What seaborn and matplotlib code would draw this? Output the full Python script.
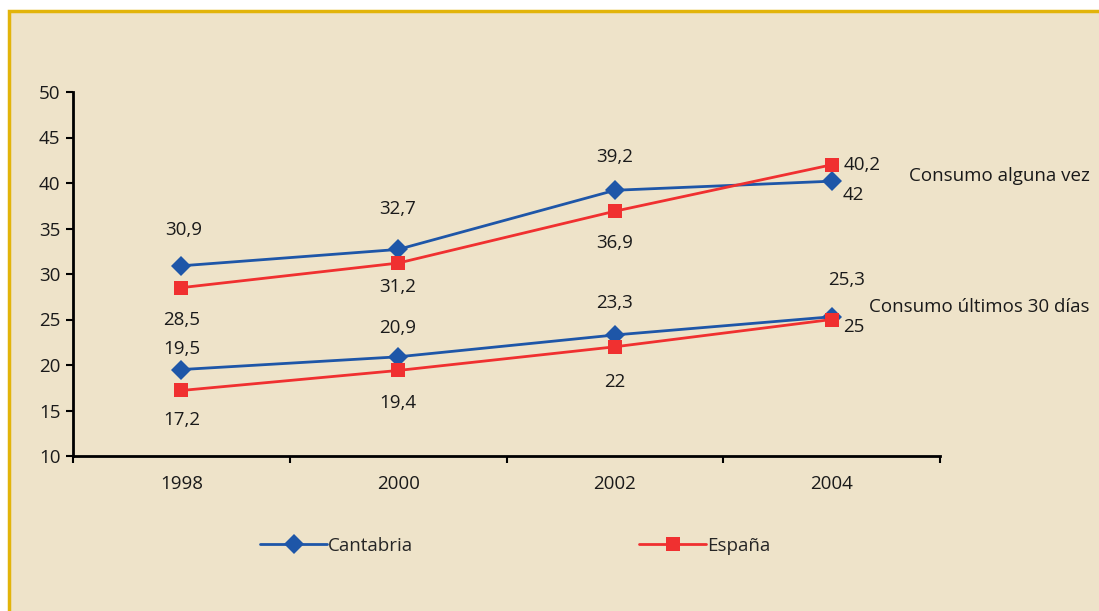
import matplotlib
matplotlib.use("Agg")
import matplotlib.pyplot as plt
import seaborn as sns
import pandas as pd
from matplotlib.patches import Rectangle
from matplotlib.lines import Line2D

# data
years = [1998, 2000, 2002, 2004]
cantabria_alguna = [30.9, 32.7, 39.2, 40.2]
espana_alguna = [28.5, 31.2, 36.9, 42]
cantabria_30 = [19.5, 20.9, 23.3, 25.3]
espana_30 = [17.2, 19.4, 22, 25]

# labels as printed in the original (the 2004 "alguna vez" pair is swapped there)
lbl_cant_alguna = ["30,9", "32,7", "39,2", "42"]
lbl_esp_alguna = ["28,5", "31,2", "36,9", "40,2"]
lbl_cant_30 = ["19,5", "20,9", "23,3", "25,3"]
lbl_esp_30 = ["17,2", "19,4", "22", "25"]

BG = "#EEE3C9"
GOLD = "#E2B40A"
BLUE = "#1E56A8"
RED = "#F03030"
FONT = ["Open Sans", "DejaVu Sans"]
FS = 13.5

sns.set_theme(style="white")
plt.rcParams["font.family"] = FONT

rows = []
for ind, c, e in [("alguna", cantabria_alguna, espana_alguna),
                  ("30", cantabria_30, espana_30)]:
    for y, vc, ve in zip(years, c, e):
        rows.append({"year": y, "value": vc, "region": "Cantabria", "ind": ind})
        rows.append({"year": y, "value": ve, "region": "España", "ind": ind})
df = pd.DataFrame(rows)

fig = plt.figure(figsize=(10.99, 6.11), dpi=100)
fig.patch.set_facecolor("white")
fig.patches.append(Rectangle((9 / 1099, -0.05), 1.2, 1 - 11.5 / 611 + 0.05,
                             transform=fig.transFigure, facecolor=BG,
                             edgecolor=GOLD, linewidth=2.5, zorder=-5))

ax = fig.add_axes([73 / 1099, (611 - 456) / 611, (940 - 73) / 1099, (456 - 92) / 611])
ax.set_facecolor("none")
ax.set_zorder(2)

palette = {"Cantabria": BLUE, "España": RED}
markers = {"Cantabria": "D", "España": "s"}
for ind in ["alguna", "30"]:
    sub = df[df["ind"] == ind]
    sns.lineplot(data=sub, x="year", y="value", hue="region", style="region",
                 palette=palette, markers=markers, dashes=False, linewidth=2,
                 markersize=10, markeredgewidth=0, legend=False, ax=ax)

def label(vals, texts, offsets):
    for x, v, t, (dx, dy) in zip(years, vals, texts, offsets):
        ax.annotate(t, (x, v), xytext=(dx, dy), textcoords="offset pixels",
                    ha="center", va="center", fontsize=FS, color="#1a1a1a",
                    annotation_clip=False)

label(cantabria_alguna, lbl_cant_alguna, [(2, 36), (0, 40), (0, 33), (22, -14)])
label(espana_alguna, lbl_esp_alguna, [(0, -32), (0, -24), (0, -32), (31, 0)])
label(cantabria_30, lbl_cant_30, [(0, 21), (0, 29), (0, 32), (15, 37)])
label(espana_30, lbl_esp_30, [(0, -30), (0, -33), (0, -35), (22, -8)])

fig.text(909 / 1099, 1 - 176 / 611, "Consumo alguna vez", fontsize=FS,
         va="center", ha="left", color="#1a1a1a")
fig.text(869 / 1099, 1 - 307 / 611, "Consumo últimos 30 días", fontsize=FS,
         va="center", ha="left", color="#1a1a1a")

ax.set_xlim(1997, 2005)
ax.set_ylim(10, 50)
ax.set_xticks(years)
ax.set_xticks([1997, 1999, 2001, 2003, 2005], minor=True)
ax.set_yticks(range(10, 55, 5))
ax.tick_params(axis="x", which="major", length=0, pad=14, labelsize=FS)
ax.tick_params(axis="x", which="minor", length=5, width=1.5, direction="out",
               color="black", bottom=True)
ax.tick_params(axis="y", length=5, width=1.5, direction="out", color="black",
               left=True, labelsize=FS, pad=4)
for lab in ax.get_xticklabels() + ax.get_yticklabels():
    lab.set_color("#1a1a1a")
ax.set_xlabel("")
ax.set_ylabel("")
ax.grid(False)
sns.despine(ax=ax)
for s in ["left", "bottom"]:
    ax.spines[s].set_color("black")
    ax.spines[s].set_linewidth(2)

# legend below the plot
h1 = Line2D([], [], color=BLUE, marker="D", markersize=10, markeredgewidth=0, linewidth=2)
h2 = Line2D([], [], color=RED, marker="s", markersize=10, markeredgewidth=0, linewidth=2)
fig.legend([h1], ["Cantabria"], loc="center left",
           bbox_to_anchor=(243 / 1099, 1 - 546 / 611), frameon=False,
           fontsize=FS, handlelength=3.6, handletextpad=0.05)
fig.legend([h2], ["España"], loc="center left",
           bbox_to_anchor=(622 / 1099, 1 - 546 / 611), frameon=False,
           fontsize=FS, handlelength=3.6, handletextpad=0.05)

fig.savefig("out.png", dpi=100, facecolor=fig.get_facecolor())
